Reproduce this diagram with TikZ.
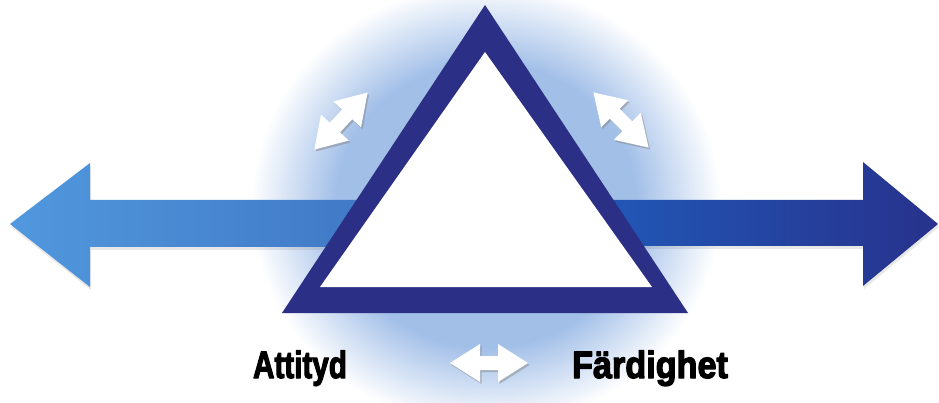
\documentclass[tikz,border=0pt]{standalone}
\usepackage{fontspec}
\setmainfont{Liberation Sans}
\newfontfamily\labelfont[FakeBold=3.5]{Liberation Sans Bold}
\usetikzlibrary{shadows}
\definecolor{triNavy}{HTML}{2B2F85}
\definecolor{glowBlue}{HTML}{A2BFE8}
\definecolor{leftTip}{HTML}{5198DE}
\definecolor{leftBase}{HTML}{3F76C4}
\definecolor{rightBase}{HTML}{215BBB}
\definecolor{rightTip}{HTML}{27328C}
\pgfdeclareradialshading{glowshade}{\pgfpoint{0bp}{0bp}}{color(0bp)=(glowBlue); color(16bp)=(glowBlue); color(25bp)=(white); color(50bp)=(white)}

\begin{document}
\begin{tikzpicture}[x=1pt,y=-1pt,line join=round]
\useasboundingbox[fill=white] (0,0) rectangle (939,403);
\clip (0,0) rectangle (939,403);
\tikzset{bigarrow/.style={draw=none,drop shadow={opacity=0.18,shadow xshift=1pt,shadow yshift=-3pt}},smallarrow/.style={fill=white,drop shadow={opacity=0.45,shadow xshift=1.5pt,shadow yshift=-2pt}},label/.style={font=\labelfont\fontsize{38}{38}\selectfont,text=black,anchor=base,inner sep=0pt},dblarrow/.pic={\path[smallarrow] (-39,0) -- (-9,-19) -- (-9,-7) -- (9,-7) -- (9,-19) -- (39,0) -- (9,19) -- (9,7) -- (-9,7) -- (-9,19) -- cycle;}}
\path[shading=glowshade] (486,205) ellipse [x radius=235, y radius=222];
\path[bigarrow,left color=leftTip,right color=leftBase] (10,224) -- (90,163) -- (90,200) -- (400,200) -- (400,247) -- (90,247) -- (90,287) -- cycle;
\path[bigarrow,left color=rightBase,right color=rightTip] (570,200) -- (863,200) -- (863,162) -- (938,224) -- (863,286) -- (863,246) -- (570,246) -- cycle;
\coordinate (apex) at (485,5); \coordinate (leftcorner) at (282,313); \coordinate (rightcorner) at (688,313);
\coordinate (inapex) at (485,52); \coordinate (inleft) at (320,287); \coordinate (inright) at (652,287);
\fill[triNavy] (apex) -- (rightcorner) -- (leftcorner) -- cycle;
\fill[white] (inapex) -- (inright) -- (inleft) -- cycle;
\pic[rotate=47] at (341,121) {dblarrow};
\pic[rotate=-45] at (621,120) {dblarrow};
\pic at (489,363) {dblarrow};
\node[label] (attityd) at (300,378) {\scalebox{0.78}[1]{Attityd}};
\node[label] (fardighet) at (650,378) {\scalebox{0.9}[1]{Färdighet}};
\end{tikzpicture}
\end{document}
